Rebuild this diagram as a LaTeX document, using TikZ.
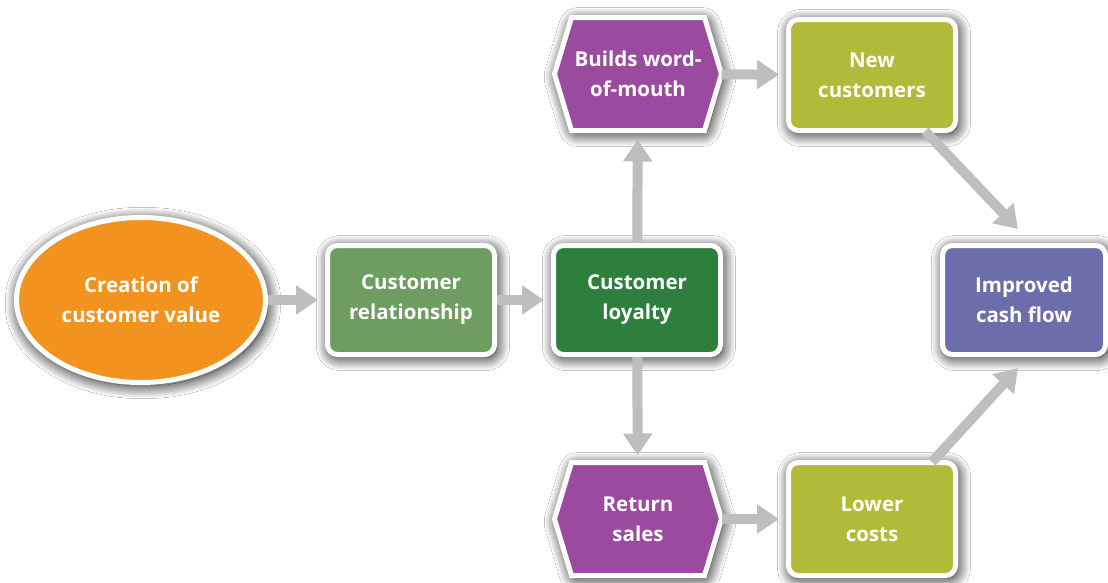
\documentclass[tikz,border=0pt]{standalone}
\usepackage{fontspec}
\setmainfont{Open Sans}
\usetikzlibrary{arrows.meta,shadows.blur,calc,backgrounds,shapes.geometric}
\definecolor{corange}{HTML}{F2921F}
\definecolor{cgreenl}{HTML}{6E9D62}
\definecolor{cgreend}{HTML}{2E7F3E}
\definecolor{cpurple}{HTML}{9B4B9F}
\definecolor{colive}{HTML}{B2BA3A}
\definecolor{cslate}{HTML}{6C6DAB}
\definecolor{cgray}{HTML}{BEBEC1}
\begin{document}
\begin{tikzpicture}[x=1pt,y=-1pt,
  txt/.style={text=white, font=\bfseries\fontsize{20.5}{30}\selectfont, align=center},
  shad/.style={blur shadow={shadow xshift=2pt, shadow yshift=-3pt, shadow blur radius=13pt, shadow blur steps=24, shadow opacity=100, shadow blur extra rounding=4pt}},
  box/.style={txt, shad, rectangle, rounded corners=10pt, draw=white, line width=5pt,
    minimum width=167pt, minimum height=109pt, inner sep=0pt},
  hexnode/.style={txt, rectangle, minimum width=167pt, minimum height=113pt, inner sep=0pt, outer sep=0pt},
  hexfill/.style={shad, draw=white, line width=5pt, line join=miter, fill=cpurple},
  conn/.style={draw=cgray, line width=10pt, -{Triangle[width=28pt,length=22pt]}, shorten >=7pt}
]
\useasboundingbox (0,0) rectangle (1108,582);

\node[txt, shad, ellipse, draw=white, line width=5pt, fill=corange,
  minimum width=249pt, minimum height=165pt, inner sep=0pt] (cv) at (141,300) {Creation of\\customer value};
\node[box, fill=cgreenl] (cr) at (411,300) {Customer\\relationship};
\node[box, fill=cgreend] (cl) at (637,300) {Customer\\loyalty};
\node[hexnode] (bw) at (638,74) {Builds word-\\of-mouth};
\node[hexnode] (rs) at (638,519) {Return\\sales};
\node[box, fill=colive, minimum height=111pt] (nc) at (872,75) {New\\customers};
\node[box, fill=colive, minimum height=113pt] (lc) at (872,519) {Lower\\costs};
\node[box, fill=cslate, minimum width=163pt] (icf) at (1024,300) {Improved\\cash flow};

\begin{scope}[on background layer]
\fill[white] (0,0) rectangle (1108,582);
\path[hexfill] (bw.west) -- ($(bw.north west)+(17,0)$) -- ($(bw.north east)+(-17,0)$) -- (bw.east)
  -- ($(bw.south east)+(-17,0)$) -- ($(bw.south west)+(17,0)$) -- cycle;
\path[hexfill] (rs.west) -- ($(rs.north west)+(17,0)$) -- ($(rs.north east)+(-17,0)$) -- (rs.east)
  -- ($(rs.south east)+(-17,0)$) -- ($(rs.south west)+(17,0)$) -- cycle;
\end{scope}

\draw[conn] (cv) -- (cr);
\draw[conn] (cr) -- (cl);
\draw[conn, shorten >=9pt] (cl) -- (bw);
\draw[conn, shorten >=7pt] (cl) -- (rs);
\draw[conn, shorten >=7pt] (bw) -- (nc);
\draw[conn, shorten >=7pt] (rs) -- (lc);
\draw[conn, shorten >=0pt] ($(nc.south east)+(-33,-2)$) -- ($(icf.north)+(-6,-14)$);
\draw[conn, shorten >=0pt] ($(lc.north east)+(-26,2)$) -- ($(icf.south)+(-6,11)$);
\end{tikzpicture}
\end{document}
